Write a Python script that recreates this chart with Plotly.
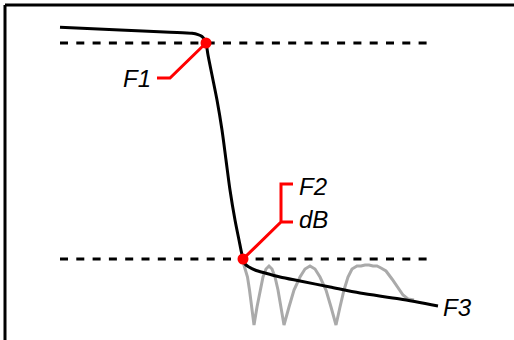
import plotly.graph_objects as go

# Schematic low-pass response; x = frequency (arbitrary units), y = attenuation (arbitrary units, grows downward)
resp_x = [60, 120, 170, 192, 198, 202, 204.5, 206, 208, 212, 217, 222, 226, 230, 235, 239, 243,
          245, 249, 255, 265, 280, 300, 330, 360, 400, 438]
resp_y = [27.3, 30, 32.2, 33.3, 34.6, 36.5, 39.5, 43, 55, 75, 100, 130, 160, 190, 220, 240, 259,
          264, 267, 270, 273, 277, 281, 287, 293, 299, 306]

ripple_x = [243, 245, 247.5, 249.5, 252, 254,
            257, 260, 263, 266, 269, 272, 275, 278, 281, 284,
            289, 294, 300, 305, 310, 315, 320, 326, 331, 336,
            340, 344, 348, 352, 357, 361, 365, 369, 373, 377,
            381, 386, 392, 398, 403, 408, 414]
ripple_y = [262, 269, 277, 290, 307, 325,
            307, 290, 277, 269, 266, 269, 277, 290, 307, 325,
            307, 290, 277, 269, 266, 269, 277, 290, 307, 325,
            307, 290, 277, 269, 266, 266, 265, 265, 266, 266,
            268, 271, 279, 288, 295, 299, 300]

level_x = [60, 428]
pass_level = 43
stop_level = 259

f1_point = (206, 43)
f2_point = (243, 259)
f1_leader_x = [206, 170, 157]
f1_leader_y = [43, 78, 78]
f2_leader_x = [243, 281, 293, 281, 281, 293]
f2_leader_y = [259, 222, 222, 222, 184, 184]

labels = ["F1", "F2", "dB", "F3"]

fig = go.Figure()

dash = dict(color="black", width=3, dash="8px,8.3px")
fig.add_trace(go.Scatter(x=level_x, y=[pass_level] * 2, mode="lines", line=dash, hoverinfo="skip"))
fig.add_trace(go.Scatter(x=level_x, y=[stop_level] * 2, mode="lines", line=dash, hoverinfo="skip"))
fig.add_trace(go.Scatter(x=ripple_x, y=ripple_y, mode="lines",
                         line=dict(color="#aaaaaa", width=3), hoverinfo="skip"))
fig.add_trace(go.Scatter(x=resp_x, y=resp_y, mode="lines", line_shape="spline",
                         line=dict(color="black", width=3, smoothing=0.8), hoverinfo="skip"))
fig.add_trace(go.Scatter(x=f1_leader_x, y=f1_leader_y, mode="lines",
                         line=dict(color="#ff0000", width=3), hoverinfo="skip"))
fig.add_trace(go.Scatter(x=f2_leader_x, y=f2_leader_y, mode="lines",
                         line=dict(color="#ff0000", width=3), hoverinfo="skip"))
fig.add_trace(go.Scatter(x=[f1_point[0], f2_point[0]], y=[f1_point[1], f2_point[1]], mode="markers",
                         marker=dict(color="#ff0000", size=11), hoverinfo="skip"))

font = dict(family="Liberation Sans, Arial", size=24, color="black")
fig.add_annotation(x=153, y=78, text="<i>" + labels[0] + "</i>", xanchor="right", yanchor="middle",
                   showarrow=False, font=font)
fig.add_annotation(x=297, y=186, text="<i>" + labels[1] + "</i>", xanchor="left", yanchor="middle",
                   showarrow=False, font=font)
fig.add_annotation(x=297, y=219, text="<i>" + labels[2] + "</i>", xanchor="left", yanchor="middle",
                   showarrow=False, font=font)
fig.add_annotation(x=441, y=307, text="<i>" + labels[3] + "</i>", xanchor="left", yanchor="middle",
                   showarrow=False, font=font)

# frame: left and top border lines
fig.add_shape(type="line", xref="x", yref="y", x0=5, x1=5, y0=5, y1=345,
              line=dict(color="black", width=3))
fig.add_shape(type="line", xref="x", yref="y", x0=5, x1=520, y0=5, y1=5,
              line=dict(color="black", width=3))

fig.update_layout(
    width=514, height=340,
    margin=dict(l=0, r=0, t=0, b=0),
    paper_bgcolor="white", plot_bgcolor="white",
    showlegend=False,
    xaxis=dict(range=[0, 514], visible=False, fixedrange=True),
    yaxis=dict(range=[340, 0], visible=False, fixedrange=True),
)

fig.write_html("out.html", config={"displayModeBar": False},
               post_script="document.body.style.margin='0px';document.body.style.overflow='hidden';")
